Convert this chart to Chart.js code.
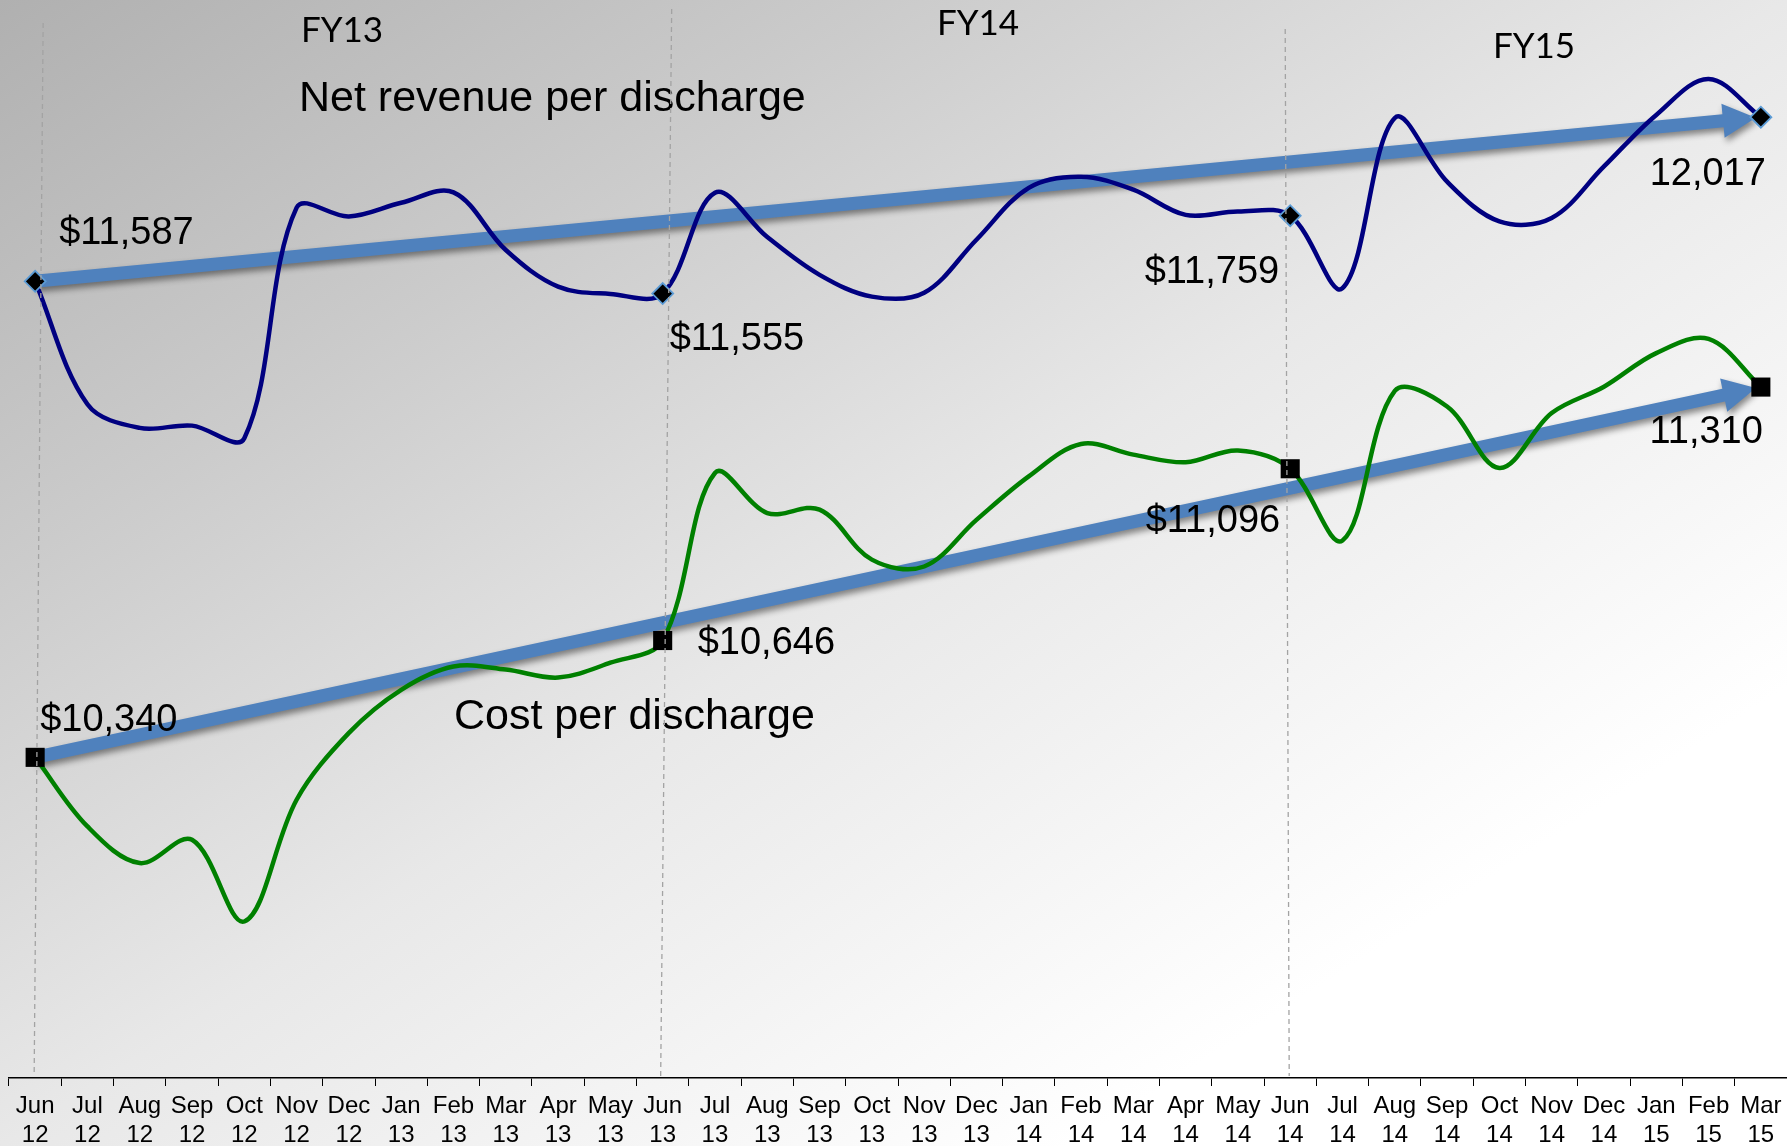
<!DOCTYPE html>
<html><head><meta charset="utf-8">
<script src="https://cdn.jsdelivr.net/npm/chart.js@4.4.1/dist/chart.umd.min.js"></script>
<style>
html,body{margin:0;padding:0;width:1787px;height:1146px;overflow:hidden;}
body{background:linear-gradient(to bottom right,#b0b0b0 0%,#cbcbcb 25%,#e8e8e8 50%,#ffffff 80%,#ffffff 100%);}
canvas{display:block;}
</style></head><body>
<canvas id="c" width="1787" height="1146"></canvas>
<script>
// ---- data ----
const months = ['Jun','Jul','Aug','Sep','Oct','Nov','Dec','Jan','Feb','Mar','Apr','May',
                'Jun','Jul','Aug','Sep','Oct','Nov','Dec','Jan','Feb','Mar','Apr','May',
                'Jun','Jul','Aug','Sep','Oct','Nov','Dec','Jan','Feb','Mar'];
const years  = ['12','12','12','12','12','12','12','13','13','13','13','13',
                '13','13','13','13','13','13','13','14','14','14','14','14',
                '14','14','14','14','14','14','14','15','15','15'];
const netRevenue = [11587, 11265, 11203, 11209, 11176, 11780, 11757, 11793, 11820, 11669, 11573, 11554,
                    11555, 11819, 11703, 11604, 11547, 11557, 11696, 11832, 11861, 11827, 11761, 11770,
                    11759, 11569, 12015, 11848, 11744, 11753, 11888, 12023, 12117, 12017];
const costPerDischarge = [10340, 10159, 10063, 10124, 9910, 10229, 10404, 10517, 10578, 10570, 10549, 10588,
                          10646, 11085, 10980, 10989, 10858, 10840, 10962, 11076, 11161, 11133, 11113, 11144,
                          11096, 10908, 11300, 11259, 11098, 11242, 11311, 11399, 11436, 11310];
const netTrend  = [11587, 12017];   // start (Jun 12) -> end (Mar 15)
const costTrend = [10340, 11310];
const markerIndex = [0, 12, 24, 33];
const labelPrefix = ['$', '$', '$', ''];
const fiscalYears = ['FY13', 'FY14', 'FY15'];
const seriesTitles = ['Net revenue per discharge', 'Cost per discharge'];

const labels = months.map((m, i) => [m, years[i]]);

// ---- styling / layout (not data) ----
const netLabelPos  = [{dx:24,dy:-48,al:'left'},{dx:7,dy:46,al:'left'},{dx:-11,dy:57,al:'right'},{dx:5,dy:57,al:'right'}];
const costLabelPos = [{dx:5,dy:-37,al:'left'},{dx:35,dy:3,al:'left'},{dx:-10,dy:53,al:'right'},{dx:2,dy:45,al:'right'}];
const fyPos = [{x:342,y:31},{x:978,y:24},{x:1534,y:47}];
const titlePos = [{x:299,y:111},{x:454,y:729}];
const dashLines = [{i:0,top:23,dt:8,db:-1},{i:12,top:9,dt:9,db:-2},{i:24,top:29,dt:-5,db:-1}];

function fmt(v){ return v.toLocaleString('en-US'); }

function drawArrow(ctx, x1, y1, x2, y2){
  const ang = Math.atan2(y2 - y1, x2 - x1);
  const c = Math.cos(ang), s = Math.sin(ang);
  const tipBack = 5, headLen = 33, headHalf = 17, half = 6.5;
  const tx = x2 - tipBack * c, ty = y2 - tipBack * s;
  const bx = tx - headLen * c, by = ty - headLen * s;
  const nx = -s, ny = c;
  ctx.save();
  ctx.shadowColor = 'rgba(0,0,0,0.45)';
  ctx.shadowBlur = 6;
  ctx.shadowOffsetX = 2;
  ctx.shadowOffsetY = 4;
  ctx.fillStyle = '#4F81BD';
  ctx.beginPath();
  ctx.moveTo(x1 + nx*half, y1 + ny*half);
  ctx.lineTo(bx + nx*half, by + ny*half);
  ctx.lineTo(bx + nx*headHalf, by + ny*headHalf);
  ctx.lineTo(tx, ty);
  ctx.lineTo(bx - nx*headHalf, by - ny*headHalf);
  ctx.lineTo(bx - nx*half, by - ny*half);
  ctx.lineTo(x1 - nx*half, y1 - ny*half);
  ctx.closePath();
  ctx.fill();
  ctx.restore();
}

const deco = {
  id: 'deco',
  beforeDatasetsDraw(chart){
    const {ctx, scales:{x, y}} = chart;
    const last = labels.length - 1;
    drawArrow(ctx, x.getPixelForValue(0), y.getPixelForValue(netTrend[0]), x.getPixelForValue(last), y.getPixelForValue(netTrend[1]));
    drawArrow(ctx, x.getPixelForValue(0), y.getPixelForValue(costTrend[0]), x.getPixelForValue(last), y.getPixelForValue(costTrend[1]));
  },
  afterDatasetsDraw(chart){
    const {ctx, scales:{x, y}} = chart;
    ctx.save();
    ctx.fillStyle = '#000';
    ctx.textBaseline = 'middle';
    ctx.font = '38px "Liberation Sans", Arial, sans-serif';
    markerIndex.forEach((idx, k) => {
      const px = x.getPixelForValue(idx);
      let p = netLabelPos[k];
      ctx.textAlign = p.al;
      ctx.fillText(labelPrefix[k] + fmt(netRevenue[idx]), px + p.dx, y.getPixelForValue(netRevenue[idx]) + p.dy);
      p = costLabelPos[k];
      ctx.textAlign = p.al;
      ctx.fillText(labelPrefix[k] + fmt(costPerDischarge[idx]), px + p.dx, y.getPixelForValue(costPerDischarge[idx]) + p.dy);
    });
    ctx.textAlign = 'left';
    ctx.textBaseline = 'alphabetic';
    ctx.font = '43px "Liberation Sans", Arial, sans-serif';
    seriesTitles.forEach((t, k) => ctx.fillText(t, titlePos[k].x, titlePos[k].y));
    ctx.textAlign = 'center';
    ctx.textBaseline = 'middle';
    ctx.font = '35px Lato, "Open Sans", sans-serif';
    fiscalYears.forEach((t, k) => ctx.fillText(t, fyPos[k].x, fyPos[k].y));
    ctx.restore();
  },
  afterDraw(chart){
    const {ctx, chartArea, scales:{x}} = chart;
    ctx.save();
    ctx.strokeStyle = '#a3a3a3';
    ctx.lineWidth = 1.3;
    ctx.setLineDash([5, 4]);
    dashLines.forEach(d => {
      const px = x.getPixelForValue(d.i);
      ctx.beginPath();
      ctx.moveTo(px + d.dt, d.top);
      ctx.lineTo(px + d.db, chartArea.bottom - 2);
      ctx.stroke();
    });
    ctx.restore();
  }
};

const isMarker = ctx => markerIndex.includes(ctx.dataIndex);

new Chart(document.getElementById('c'), {
  type: 'line',
  data: {
    labels,
    datasets: [
      {
        label: seriesTitles[0],
        data: netRevenue,
        borderColor: '#000080',
        borderWidth: 4.5,
        tension: 0.35,
        fill: false,
        pointStyle: 'rectRot',
        pointRadius: c => isMarker(c) ? 10.5 : 0,
        pointHoverRadius: c => isMarker(c) ? 10.5 : 0,
        pointBackgroundColor: '#000000',
        pointBorderColor: '#5B9BD5',
        pointBorderWidth: 1.8
      },
      {
        label: seriesTitles[1],
        data: costPerDischarge,
        borderColor: '#008000',
        borderWidth: 4.5,
        tension: 0.35,
        fill: false,
        pointStyle: 'rect',
        pointRadius: c => isMarker(c) ? 13.5 : 0,
        pointHoverRadius: c => isMarker(c) ? 13.5 : 0,
        pointBackgroundColor: '#000000',
        pointBorderColor: '#000000',
        pointBorderWidth: 0
      }
    ]
  },
  options: {
    responsive: false,
    animation: false,
    devicePixelRatio: 1,
    events: [],
    layout: { autoPadding: false, padding: { left: 9, right: 0, top: 0, bottom: 0 } },
    plugins: { legend: { display: false }, tooltip: { enabled: false } },
    scales: {
      x: {
        offset: true,
        afterFit(scale){ scale.paddingLeft = 0; scale.paddingRight = 0; scale.height = 68; },
        grid: { offset: true, drawOnChartArea: false, drawTicks: true, tickLength: 8, color: '#000', lineWidth: 1 },
        border: { display: true, color: '#000', width: 1.5 },
        ticks: {
          autoSkip: false, maxRotation: 0, minRotation: 0, padding: 6,
          color: '#000',
          font: { family: '"Liberation Sans", Arial, sans-serif', size: 24, lineHeight: 1.2 }
        }
      },
      y: { display: false, min: 9500, max: 12324 }
    }
  },
  plugins: [deco]
});
</script>
</body></html>
